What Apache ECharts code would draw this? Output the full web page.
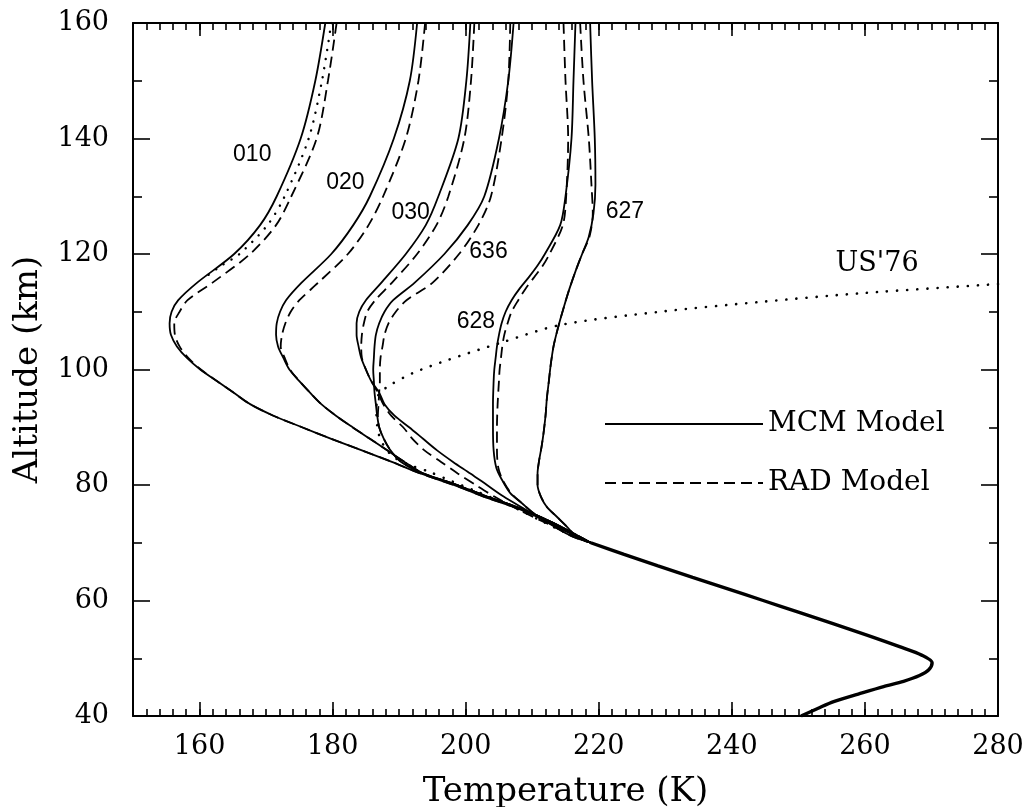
<!DOCTYPE html>
<html>
<head>
<meta charset="utf-8">
<script src="https://cdn.jsdelivr.net/npm/echarts@6/dist/echarts.min.js"></script>
<style>
html,body{margin:0;padding:0;background:#fff;}
#chart{width:1032px;height:807px;}
</style>
</head>
<body>
<div id="chart"></div>
<script>
// every point is [temperature K, altitude km]

/* MCM model (solid) */
var mcm010 = [[178.9,160],[177.4,150],[175.2,140],[171.6,130],[169.1,125],[165.2,120],[159.6,115],[156.8,112],[155.8,110],[155.5,108],[155.7,106],[156.6,104],[158.1,102],[160.1,100],[162.6,98],[165.1,96],[167.6,94],[171.1,92],[175.4,90],[179.8,88],[184.4,86],[188.9,84],[193.2,82],[198.2,80],[202.7,78],[207.7,76],[211.7,74],[215.2,72],[218.8,70]];
var mcm020 = [[192.7,160],[191.6,150],[189.2,140],[185.6,130],[183.1,125],[179.8,120],[175.3,115],[173.0,112],[172.1,110],[171.6,108],[171.5,106],[171.8,104],[172.6,102],[173.5,100],[175.0,98],[176.6,96],[178.3,94],[180.5,92],[183.0,90],[185.6,88],[188.2,86],[190.8,84],[193.6,82],[198.7,80],[203.2,78],[208.1,76],[212.1,74],[215.6,72],[218.8,70]];
var mcm030 = [[200.7,160],[200.1,150],[198.9,140],[195.9,130],[194.0,125],[191.0,120],[187.3,115],[185.0,112],[184.0,110],[183.6,108],[183.6,106],[183.9,104],[184.3,102],[185.0,100],[185.8,98],[187.0,96],[187.8,94],[189.3,92],[191.5,90],[193.6,88],[195.7,86],[198.1,84],[200.7,82],[203.2,80],[205.7,78],[208.6,76],[211.5,74],[215.0,72],[218.8,70]];
var mcm636 = [[207.2,160],[206.4,150],[205.0,140],[202.8,130],[200.3,125],[196.8,120],[192.3,115],[189.1,112],[187.8,110],[187.0,108],[186.5,106],[186.3,104],[186.2,102],[186.1,100],[186.2,98],[186.3,96],[186.5,94],[186.7,92],[187.0,90],[187.7,88],[188.7,86],[190.3,84],[193.6,82],[198.7,80],[203.2,78],[208.1,76],[212.1,74],[215.6,72],[218.8,70]];
var mcm628 = [[216.5,160],[216.2,150],[215.9,140],[215.0,130],[214.2,125],[211.9,120],[210.8,118],[209.5,116],[208.1,114],[206.9,112],[206.0,110],[205.4,108],[205.0,106],[204.7,104],[204.5,102],[204.3,100],[204.2,98],[204.1,94],[204.1,90],[204.2,86],[204.6,83],[205.4,81],[206.7,78.6],[208.5,76.8],[210.2,75.1],[212.2,73.6],[214.2,72.2],[216.2,71],[218.8,70]];
var mcm627 = [[218.7,160],[219.0,150],[219.4,140],[219.5,132],[219.2,127],[218.5,123],[217.5,120],[216.5,117],[215.6,114],[214.8,111],[214.2,108.6],[213.6,106],[213.2,104],[212.8,101],[212.5,98],[212.2,95],[212.0,92],[211.7,89],[211.4,86.6],[211.0,84],[210.8,82],[210.8,80],[211.3,78],[212.2,76.2],[213.7,74.5],[215.2,72.8],[216.7,71],[218.8,70]];

/* RAD model (dashed) */
var rad010 = [[180.6,160],[179.3,150],[177.6,140],[173.8,130],[171.5,125],[167.6,120],[161.9,115],[158.2,112],[157.0,110],[156.2,108],[156.3,106],[157.0,104],[158.3,102],[160.2,100],[162.6,98],[165.1,96],[167.6,94],[171.1,92],[175.4,90],[179.8,88],[184.4,86],[188.9,84],[193.2,82],[198.2,80],[202.7,78],[207.7,76],[211.7,74],[215.2,72],[218.8,70]];
var rad020 = [[193.9,160],[192.9,150],[191.0,140],[187.6,130],[185.4,125],[182.3,120],[177.8,115],[175.0,112],[173.7,110],[172.9,108],[172.4,106],[172.2,104],[172.8,102],[173.6,100],[175.0,98],[176.6,96],[178.3,94],[180.5,92],[183.0,90],[185.6,88],[188.2,86],[190.8,84],[193.6,82],[198.7,80],[203.2,78],[208.1,76],[212.1,74],[215.6,72],[218.8,70]];
var rad030 = [[201.3,160],[200.8,150],[199.8,140],[197.4,130],[195.6,125],[192.7,120],[188.9,115],[186.4,112],[185.2,110],[184.7,108],[184.4,106],[184.3,104],[184.4,102],[185.0,100],[185.8,98],[186.8,96],[187.6,94],[188.8,92],[190.6,90],[192.0,88],[193.8,86],[196.3,84],[198.8,82],[201.5,80],[204.3,78],[207.5,76],[211.0,74],[214.8,72],[218.8,70]];
var rad636 = [[206.7,160],[206.4,150],[205.4,140],[203.8,130],[201.9,125],[199.0,120],[195.0,115],[191.1,112],[189.5,110],[188.4,108],[187.8,106],[187.5,104],[187.2,102],[187.1,100],[187.1,98],[187.0,96],[186.9,94],[186.8,92],[187.0,90],[187.7,88],[188.7,86],[190.3,84],[193.6,82],[198.7,80],[203.2,78],[208.1,76],[212.1,74],[215.6,72],[218.8,70]];
var rad628 = [[214.7,160],[215.0,150],[215.4,140],[215.1,130],[214.6,125],[212.6,120],[211.6,118],[210.3,116],[209.0,114],[207.9,112],[206.9,110],[206.3,108],[205.8,106],[205.5,104],[205.3,102],[205.1,100],[205.0,98],[204.8,94],[204.7,90],[204.7,86],[204.9,83],[205.5,81],[206.8,78.6],[208.5,76.8],[210.2,75.1],[212.2,73.6],[214.2,72.2],[216.2,71],[218.8,70]];
var rad627 = [[217.2,160],[217.7,150],[218.5,140],[218.9,132],[219.1,127],[218.6,123],[217.5,120],[216.5,117],[215.6,114],[214.8,111],[214.2,108.6],[213.6,106],[213.2,104],[212.8,101],[212.5,98],[212.2,95],[212.0,92],[211.7,89],[211.4,86.6],[211.0,84],[210.8,82],[210.8,80],[211.3,78],[212.2,76.2],[213.7,74.5],[215.2,72.8],[216.7,71],[218.8,70]];

/* dotted 010 and the US'76 standard atmosphere */
var dot010 = [[179.8,160],[178.4,150],[176.4,140],[172.8,130],[170.2,125],[166.0,120],[163.3,118],[160.9,116]];
var us76 = [[280.0,114.8],[259.3,113.2],[244.3,111.7],[229.2,110.0],[214.2,107.7],[205.2,104.6],[197.2,101.6],[192.1,99.4],[188.5,97.2],[187.0,95.8],[186.6,94.5],[186.6,92],[186.9,89],[187.6,87],[189.0,85],[191.5,83.5],[194.5,82.3],[198.0,80.6],[201.2,79.1],[204.5,77.5],[207.5,76],[211.0,74],[214.5,72],[218.8,70]];

/* common profile below 70 km */
var lowerT = [[218.8,70],[223.8,68],[228.9,66],[234.1,64],[239.4,62],[244.7,60],[250.0,58],[255.2,56],[260.3,54],[265.2,52],[268.6,50.5],[270.1,49.2],[269.6,48],[268.2,47],[265.8,46],[262.8,45.1],[259.0,43.8],[255.3,42.5],[252.9,41.3],[250.4,40]];

/* curve names */
var curveTags = [['010',168.0,137.1],['020',182.0,132.3],['030',191.8,127.1],['636',203.5,120.3],['628',201.6,108.2],['627',224.0,127.3]];
var usTag = [['US\'76',261.9,118.1]];

var xMajor = [160,180,200,220,240,260,280];

var mcmList = [mcm010,mcm020,mcm030,mcm636,mcm628,mcm627];
var radList = [rad010,rad020,rad030,rad636,rad628,rad627];

var ink = '#000';
var serif = 'DejaVu Serif';

var series = [];
mcmList.forEach(function(d){
	series.push({name:'MCM Model',type:'line',data:d,symbol:'none',smooth:0.3,
		itemStyle:{color:ink},lineStyle:{color:ink,width:1.8,type:'solid'},z:3});
});
radList.forEach(function(d){
	series.push({name:'RAD Model',type:'line',data:d,symbol:'none',smooth:0.3,
		itemStyle:{color:ink},lineStyle:{color:ink,width:1.8,type:[11,6]},z:2});
});
series.push({name:'dot010',type:'line',data:dot010,symbol:'none',smooth:0.3,
	lineStyle:{color:ink,width:2.4,type:[0.1,9],cap:'round'}});
series.push({name:'US76',type:'line',data:us76,symbol:'none',smooth:0.3,
	lineStyle:{color:ink,width:2.6,type:[0.1,10],cap:'round'}});
series.push({name:'lower',type:'line',data:lowerT,symbol:'none',smooth:0.3,
	lineStyle:{color:ink,width:3.4}});

function tagSeries(list, font, size){
	return {type:'scatter',symbol:'circle',symbolSize:1,
		itemStyle:{color:'rgba(0,0,0,0)',opacity:1},
		data:list.map(function(t){return [t[1],t[2],t[0]];}),
		label:{show:true,position:[0,0],align:'center',verticalAlign:'middle',opacity:1,
			formatter:function(p){return p.value[2];},
			fontFamily:font,fontSize:size,color:ink,textBorderWidth:0}};
}
series.push(tagSeries(curveTags,'Liberation Sans',23));
series.push(tagSeries(usTag,serif,27));

var tickLine = {color:ink,width:1.6};
var frame = {show:true,lineStyle:{color:ink,width:2}};

var option = {
	backgroundColor:'#fff',
	animation:false,
	grid:{left:133,right:34,top:23,bottom:91,containLabel:false,outerBoundsMode:'none'},
	legend:{
		data:['MCM Model','RAD Model'],
		orient:'vertical',left:599,top:405,
		itemWidth:158,itemHeight:30,itemGap:31,
		selectedMode:false,
		itemStyle:{opacity:0},
		textStyle:{fontFamily:serif,fontSize:28,color:ink}
	},
	xAxis:[
		{type:'value',min:150,max:280,interval:2,position:'bottom',
			axisLine:frame,axisTick:{inside:true,length:7,lineStyle:tickLine},
			axisLabel:{show:false},splitLine:{show:false}},
		{type:'value',min:150,max:280,position:'bottom',
			axisLine:{show:false},
			axisTick:{inside:true,length:14,customValues:xMajor,lineStyle:tickLine},
			axisLabel:{customValues:xMajor,margin:17,fontFamily:serif,fontSize:27,color:ink},
			splitLine:{show:false},
			name:'Temperature (K)',nameLocation:'middle',nameGap:59,
			nameTextStyle:{fontFamily:serif,fontSize:34,color:ink}},
		{type:'value',min:150,max:280,interval:2,position:'top',
			axisLine:frame,axisTick:{inside:true,length:7,lineStyle:tickLine},
			axisLabel:{show:false},splitLine:{show:false}},
		{type:'value',min:150,max:280,position:'top',
			axisLine:{show:false},
			axisTick:{inside:true,length:13,customValues:xMajor,lineStyle:tickLine},
			axisLabel:{show:false},splitLine:{show:false}}
	],
	yAxis:[
		{type:'value',min:40,max:160,interval:20,position:'left',
			axisLine:frame,axisTick:{inside:true,length:17,lineStyle:tickLine},
			minorTick:{show:true,splitNumber:2,length:9,lineStyle:tickLine},
			axisLabel:{margin:24,fontFamily:serif,fontSize:27,color:ink},
			splitLine:{show:false},
			name:'Altitude (km)',nameLocation:'middle',nameGap:88,nameRotate:90,
			nameTextStyle:{fontFamily:serif,fontSize:34,color:ink}},
		{type:'value',min:40,max:160,interval:20,position:'right',
			axisLine:frame,axisTick:{inside:true,length:17,lineStyle:tickLine},
			minorTick:{show:true,splitNumber:2,length:9,lineStyle:tickLine},
			axisLabel:{show:false},splitLine:{show:false}}
	],
	series:series
};

var myChart = echarts.init(document.getElementById('chart'));
myChart.setOption(option);
</script>
</body>
</html>
